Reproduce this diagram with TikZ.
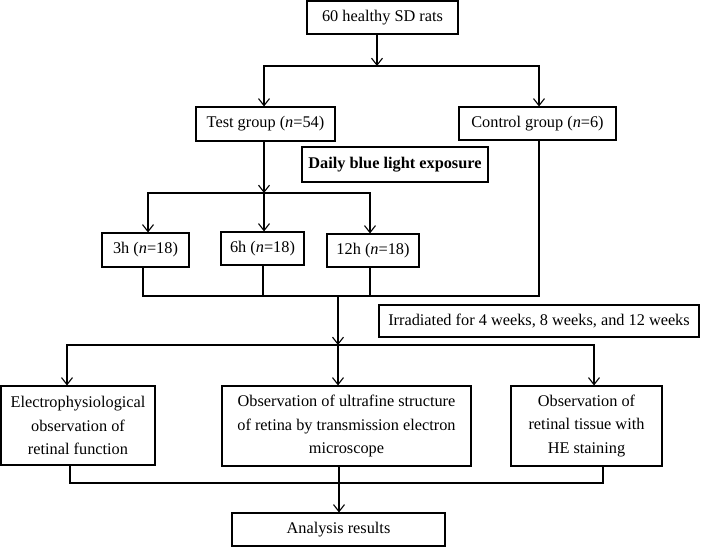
\documentclass[tikz,border=0pt]{standalone}
\usepackage{fontspec}
\setmainfont{Liberation Serif}
\usetikzlibrary{arrows.meta}

\begin{document}
\begin{tikzpicture}
  [x=1pt, y=-1pt, line width=1.1pt,
   box/.style={draw, rectangle, inner sep=2pt, align=center,
     font=\fontsize{16.3}{23.5}\selectfont},
   arr/.style={-{Straight Barb[length=7pt,width=11pt,line width=1.1pt]}}]
  \useasboundingbox (0,0) rectangle (710,547);
  % boxes
  \node[box, minimum width=151pt, minimum height=33pt] (rats) at (382.5,17.5) {60 healthy SD rats};
  \node[box, minimum width=139pt, minimum height=34pt] (test) at (265.5,124) {Test group (\textit{n}=54)};
  \node[box, minimum width=157pt, minimum height=33pt] (ctrl) at (537.5,123.5) {Control group (\textit{n}=6)};
  \node[box, minimum width=186pt, minimum height=35pt, font=\fontsize{16.3}{19}\selectfont\bfseries] (daily) at (395,164.5) {Daily blue light exposure};
  \node[box, minimum width=87pt, minimum height=34pt] (h3) at (145.5,250) {3h (\textit{n}=18)};
  \node[box, minimum width=83pt, minimum height=33pt] (h6) at (262.5,248.5) {6h (\textit{n}=18)};
  \node[box, minimum width=92pt, minimum height=33pt] (h12) at (373,250.5) {12h (\textit{n}=18)};
  \node[box, minimum width=320pt, minimum height=32pt] (irr) at (539,321) {Irradiated for 4 weeks, 8 weeks, and 12 weeks};
  \node[box, minimum width=154pt, minimum height=79pt] (elec) at (78,425.5) {Electrophysiological\\observation of\\retinal function};
  \node[box, minimum width=249pt, minimum height=80pt] (ultra) at (346.5,426) {Observation of ultrafine structure\\of retina by transmission electron\\microscope};
  \node[box, minimum width=151pt, minimum height=80pt] (he) at (586.5,426) {Observation of\\retinal tissue with\\HE staining};
  \node[box, minimum width=213pt, minimum height=33pt] (res) at (338.5,529.5) {Analysis results};
  % junctions
  \coordinate (j1) at (377,66);
  \coordinate (j2) at (264,193);
  \coordinate (j3) at (338,296);
  \coordinate (j4) at (338,345);
  \coordinate (j5) at (339,483);
  \coordinate (j6) at (603,483);
  % connectors
  \draw[arr] (rats.south -| j1) -- (j1);
  \draw[arr] (j1) -| (test.north -| j2);
  \draw[arr] (j1) -| (ctrl.north -| 539,0);
  \draw[arr] (test.south -| j2) -- (j2);
  \draw[arr] (j2) -| (h3.north -| 148,0);
  \draw[arr] (j2) -- (h6.north -| j2);
  \draw[arr] (j2) -| (h12.north -| 370,0);
  \draw (h3.south -| 143,0) |- (539,296) -- (ctrl.south -| 539,0);
  \draw (h6.south -| 263,0) -- (263,296);
  \draw (h12.south -| 370,0) -- (370,296);
  \draw[arr] (j3) -- (j4);
  \draw[arr] (j4) -| (elec.north -| 67,0);
  \draw[arr] (j4) -- (ultra.north -| j4);
  \draw[arr] (j4) -| (he.north -| 594,0);
  \draw (elec.south -| 70,0) |- (j6) -- (he.south -| j6);
  \draw (ultra.south -| j5) -- (j5);
  \draw[arr] (j5) -- (res.north -| j5);
\end{tikzpicture}
\end{document}
